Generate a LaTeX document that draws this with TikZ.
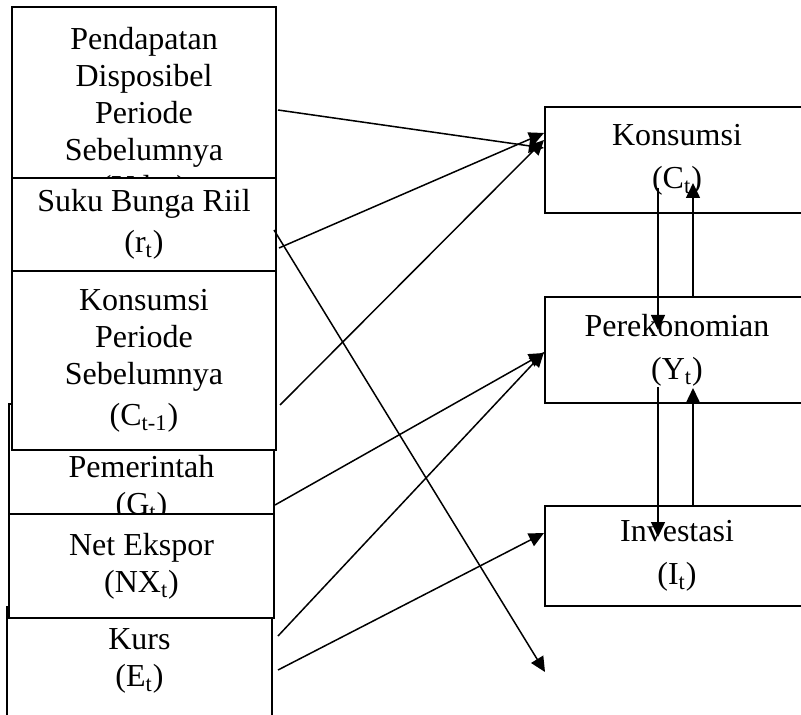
\documentclass[tikz,border=0pt]{standalone}
\usepackage{fontspec}
\setmainfont{Liberation Serif}
\usetikzlibrary{arrows.meta,calc}
\begin{document}
\begin{tikzpicture}[x=0.5pt,y=-0.5pt,
  txt/.style={inner sep=0pt, align=center, font=\fontsize{16pt}{18.5pt}\selectfont},
  box/.style={txt, draw, line width=1pt, fill=white},
  arr/.style={line width=0.75pt, -{Triangle[length=7.5pt,width=7pt]}}]
\useasboundingbox (0,0) rectangle (801,715);
\clip (0,0) rectangle (801,715);
% left column
\node[box, minimum width=132pt, minimum height=109pt] (b1) at (144,116)
  {Pendapatan\\Disposibel\\Periode\\Sebelumnya\\(Yd\textsubscript{t-1})};
\node[box, minimum width=132pt, minimum height=46.5pt] (b2) at (144,224.5)
  {Suku Bunga Riil\\[2pt](r\textsubscript{t})};
\node[box, minimum width=132.5pt, minimum height=84pt] (b4) at (141.5,488)
  {Pemerintah\\(G\textsubscript{t})};
\node[box, minimum width=132pt, minimum height=89pt] (b3) at (144,360.5)
  {Konsumsi\\Periode\\Sebelumnya\\[2pt](C\textsubscript{t-1})};
\node[box, minimum width=132.5pt, minimum height=60pt] (b6) at (139.5,667) {};
\node[txt] (b6t) at (139.5,661) {Kurs\\(E\textsubscript{t})};
\node[box, minimum width=132.5pt, minimum height=52pt] (b5) at (141.5,566)
  {Net Ekspor\\(NX\textsubscript{t})};
% right column
\node[box, minimum width=132pt, minimum height=53pt] (r1) at (677,160)
  {Konsumsi\\[3pt](C\textsubscript{t})};
\node[box, minimum width=132pt, minimum height=53pt] (r2) at (677,350)
  {Perekonomian\\[3pt](Y\textsubscript{t})};
\node[box, minimum width=132pt, minimum height=50pt] (r3) at (677,556)
  {Investasi\\[3pt](I\textsubscript{t})};
% arrows left to right
\coordinate (kend) at (545,672);
\draw[arr] ($(b1.east)+(1,-6)$) -- ($(r1.west)+(0,-12)$);
\draw[arr] ($(b2.east)+(2,23.5)$) -- ($(r1.west)+(0,-27)$);
\draw[arr] ($(b2.east)+(-3,5.5)$) -- (kend);
\draw[arr] ($(b3.east)+(3,44.5)$) -- ($(r1.west)+(0,-20)$);
\draw[arr] ($(b4.east)+(0,17)$) -- ($(r2.west)+(0,3)$);
\draw[arr] ($(b6.east)+(5,-31)$) -- ($(r2.west)+(0,2)$);
\draw[arr] ($(b6.east)+(5,3)$) -- ($(r3.west)+(0,-23)$);
% vertical arrows
\draw[arr] ($(r1.center)+(-19,28)$) -- ($(r2.center)+(-19,-20)$);
\draw[arr] ($(r2.north)+(16,0)$) -- ($(r1.center)+(16,23)$);
\draw[arr] ($(r2.center)+(-19,37)$) -- ($(r3.center)+(-19,-19)$);
\draw[arr] ($(r3.north)+(16,0)$) -- ($(r2.center)+(16,38)$);
\end{tikzpicture}
\end{document}
